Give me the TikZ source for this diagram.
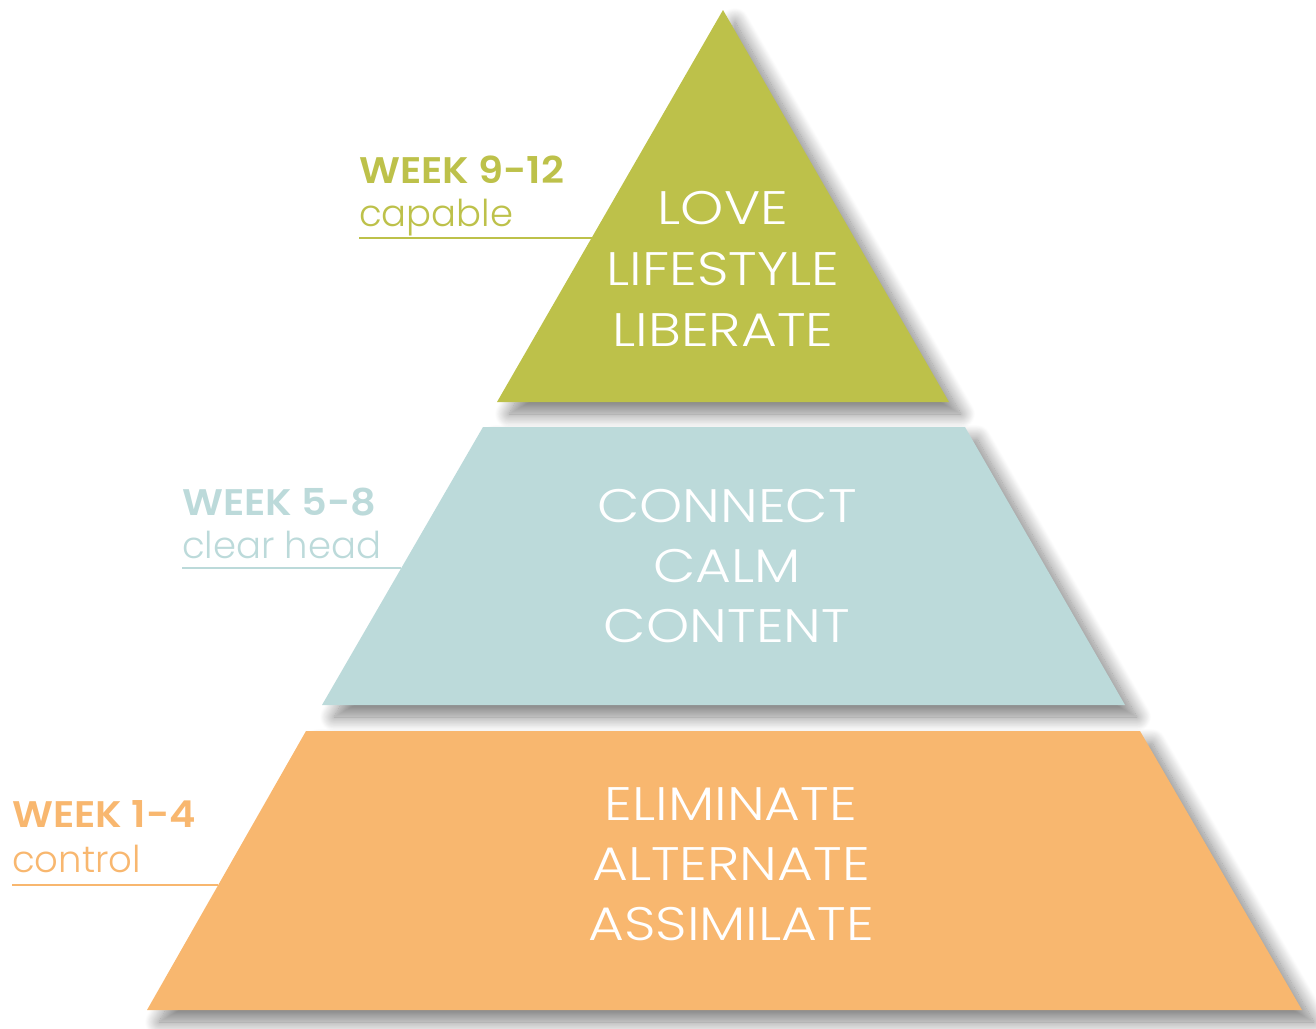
\documentclass[tikz,border=0pt]{standalone}
\usepackage{fontspec}
\setmainfont{Poppins}
\newfontfamily\lightfont{Poppins Light}[FakeStretch=1.17]
\newfontfamily\moodfont{Poppins Light}
\newfontfamily\semifont{Poppins SemiBold}[FakeStretch=1.08]
\usetikzlibrary{shadows.blur}
\definecolor{greenc}{RGB}{189,193,74}
\definecolor{bluec}{RGB}{188,218,218}
\definecolor{orangec}{RGB}{248,183,111}
\begin{document}
\begin{tikzpicture}[x=1pt, y=-1pt,
    level/.style={blur shadow={shadow xshift=12pt, shadow yshift=-12pt, shadow blur radius=14pt, shadow blur steps=20, shadow opacity=50}},
    word/.style={anchor=base, text=white, inner sep=0pt, font=\lightfont\fontsize{47}{56}\selectfont},
    week/.style={anchor=base west, inner sep=0pt, font=\semifont\fontsize{37}{44}\selectfont},
    mood/.style={anchor=base west, inner sep=0pt, font=\moodfont\fontsize{37}{44}\selectfont}]
    \useasboundingbox (0,0) rectangle (1316,1028);

    % pyramid levels
    \fill[greenc, level] (723,10) -- (949,402) -- (497,402) -- cycle;
    \fill[bluec, level] (483,427) -- (965,427) -- (1125,705) -- (322,705) -- cycle;
    \fill[orangec, level] (306,731) -- (1140,731) -- (1302,1010) -- (147,1010) -- cycle;

    \node[word] (love) at (723,224) {LOVE};
    \node[word] (lifestyle) at (723,285) {LIFESTYLE};
    \node[word] (liberate) at (723,346) {LIBERATE};

    \node[word] (connect) at (727,522) {CONNECT};
    \node[word] (calm) at (727,582) {CALM};
    \node[word] (content) at (727,642) {CONTENT};

    \node[word] (eliminate) at (731,820) {ELIMINATE};
    \node[word] (alternate) at (731,880) {ALTERNATE};
    \node[word] (assimilate) at (731,940) {ASSIMILATE};

    % week labels
    \node[week, text=greenc] (w9) at (359,183) {WEEK 9-12};
    \node[mood, text=greenc] (capable) at (359,226) {capable};
    \coordinate (l9) at (359,238);
    \coordinate (e9) at (592,238);
    \draw[greenc, line width=1.2pt] (l9) -- (e9);

    \node[week, text=bluec] (w5) at (182,515) {WEEK 5-8};
    \node[mood, text=bluec] (clear) at (182,558) {clear head};
    \coordinate (l5) at (182,568);
    \coordinate (e5) at (401,568);
    \draw[bluec, line width=1.2pt] (l5) -- (e5);

    \node[week, text=orangec] (w1) at (12,827) {WEEK 1-4};
    \node[mood, text=orangec] (control) at (12,872) {control};
    \coordinate (l1) at (12,885);
    \coordinate (e1) at (218,885);
    \draw[orangec, line width=1.2pt] (l1) -- (e1);
\end{tikzpicture}
\end{document}
